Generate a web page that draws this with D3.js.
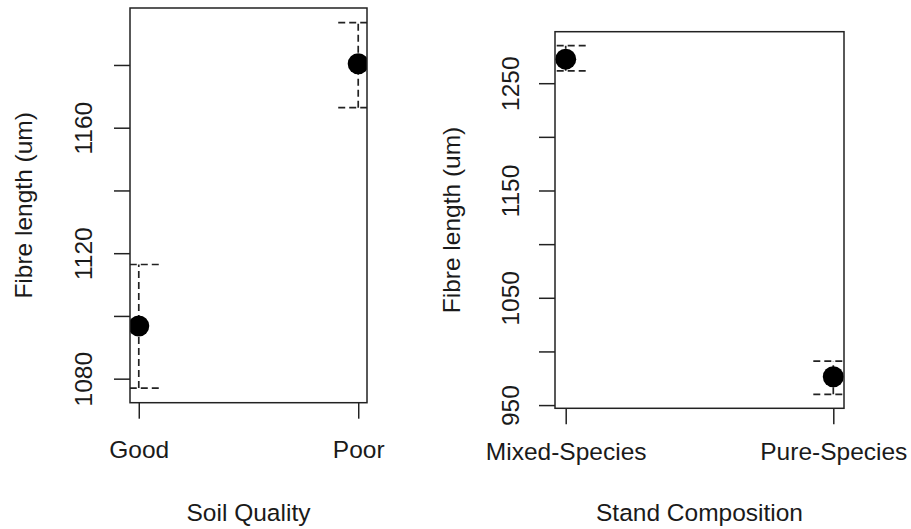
<!DOCTYPE html>
<meta charset="utf-8">
<style>
body { margin: 0; background: #fff; }
svg { display: block; }
.axis text, .title { font-family: "Liberation Sans", Arial, sans-serif; font-size: 24.5px; fill: #1a1a1a; }
.box { fill: none; stroke: #222; stroke-width: 1.5; }
.bar { stroke: #222; stroke-width: 1.7; stroke-dasharray: 7,4; fill: none; }
.dot { fill: #000; }
</style>
<body>
<script src="https://d3js.org/d3.v7.min.js"></script>
<script>

// soil quality panel
var soilCats = ["Good", "Poor"];
var soilMean = [1096.8, 1180.4];
var soilLower = [1077, 1166.4];
var soilUpper = [1116.4, 1193.5];
var soilTicks = [1080, 1100, 1120, 1140, 1160, 1180];
var soilTickLabels = [1080, 1120, 1160];

// stand composition panel
var standCats = ["Mixed-Species", "Pure-Species"];
var standMean = [1272.4, 976.4];
var standLower = [1261.5, 960];
var standUpper = [1285, 991];
var standTicks = [950, 1000, 1050, 1100, 1150, 1200, 1250];
var standTickLabels = [950, 1050, 1150, 1250];

var width = 911, height = 529;

var svg = d3.select("body").append("svg")
    .attr("width", width)
    .attr("height", height);

function panel(o) {
    var g = svg.append("g");

    var x = d3.scalePoint()
        .domain(o.cats)
        .range([o.left, o.right])
        .padding(0.04);

    // R style 4% extension of the data range
    var lo = d3.min(o.lower), hi = d3.max(o.upper), pad = (hi - lo) * 0.04;
    var y = d3.scaleLinear()
        .domain([lo - pad, hi + pad])
        .range([o.bottom, o.top]);

    g.append("clipPath")
        .attr("id", o.id)
        .append("rect")
        .attr("x", o.left).attr("y", o.top)
        .attr("width", o.right - o.left).attr("height", o.bottom - o.top);

    var data = o.cats.map(function(c, i) {
        return {cat: c, mean: o.mean[i], lower: o.lower[i], upper: o.upper[i]};
    });

    var plot = g.append("g").attr("clip-path", "url(#" + o.id + ")");

    var cap = 20;
    var bars = plot.selectAll(".errbar")
        .data(data)
        .enter().append("g");

    bars.append("line")
        .attr("class", "bar")
        .attr("x1", d => x(d.cat)).attr("x2", d => x(d.cat))
        .attr("y1", d => y(d.lower)).attr("y2", d => y(d.upper));

    bars.append("line")
        .attr("class", "bar")
        .attr("x1", d => x(d.cat) - cap).attr("x2", d => x(d.cat) + cap)
        .attr("y1", d => y(d.upper)).attr("y2", d => y(d.upper));

    bars.append("line")
        .attr("class", "bar")
        .attr("x1", d => x(d.cat) - cap).attr("x2", d => x(d.cat) + cap)
        .attr("y1", d => y(d.lower)).attr("y2", d => y(d.lower));

    plot.selectAll(".dot")
        .data(data)
        .enter().append("circle")
        .attr("class", "dot")
        .attr("cx", d => x(d.cat))
        .attr("cy", d => y(d.mean))
        .attr("r", 10.5);

    g.append("rect")
        .attr("class", "box")
        .attr("x", o.left).attr("y", o.top)
        .attr("width", o.right - o.left).attr("height", o.bottom - o.top);

    // y axis, labels rotated like base R
    var ya = g.append("g")
        .attr("class", "axis")
        .attr("transform", "translate(" + o.left + ",0)")
        .call(d3.axisLeft(y)
            .tickValues(o.ticks)
            .tickSize(16)
            .tickFormat(d => o.tickLabels.indexOf(d) >= 0 ? d : ""));
    ya.select(".domain").remove();
    ya.selectAll("line").attr("stroke", "#222").attr("stroke-width", 1.5);
    ya.selectAll("text")
        .attr("x", 0).attr("dy", 0)
        .attr("text-anchor", "middle")
        .attr("transform", "translate(" + (-o.yLabOff) + ",0) rotate(-90)");

    var xa = g.append("g")
        .attr("class", "axis")
        .attr("transform", "translate(0," + o.bottom + ")")
        .call(d3.axisBottom(x).tickSize(16).tickSizeOuter(0));
    xa.select(".domain").remove();
    xa.selectAll("line").attr("stroke", "#222").attr("stroke-width", 1.5);
    xa.selectAll("text")
        .attr("y", o.xLabY - o.bottom)
        .attr("dy", 0);

    g.append("text")
        .attr("class", "title")
        .attr("x", (o.left + o.right) / 2)
        .attr("y", 521)
        .attr("text-anchor", "middle")
        .text(o.xTitle);

    g.append("text")
        .attr("class", "title")
        .attr("transform", "translate(" + (o.left - o.yTitleOff) + "," + ((o.top + o.bottom) / 2) + ") rotate(-90)")
        .attr("text-anchor", "middle")
        .text("Fibre length (um)");
}

panel({
    id: "clipSoil",
    cats: soilCats, mean: soilMean, lower: soilLower, upper: soilUpper,
    ticks: soilTicks, tickLabels: soilTickLabels,
    left: 130, right: 367, top: 8, bottom: 402.7,
    yLabOff: 38, xLabY: 458, yTitleOff: 98,
    xTitle: "Soil Quality"
});

panel({
    id: "clipStand",
    cats: standCats, mean: standMean, lower: standLower, upper: standUpper,
    ticks: standTicks, tickLabels: standTickLabels,
    left: 555, right: 844, top: 31.7, bottom: 408.3,
    yLabOff: 36, xLabY: 460, yTitleOff: 95,
    xTitle: "Stand Composition"
});

</script>
